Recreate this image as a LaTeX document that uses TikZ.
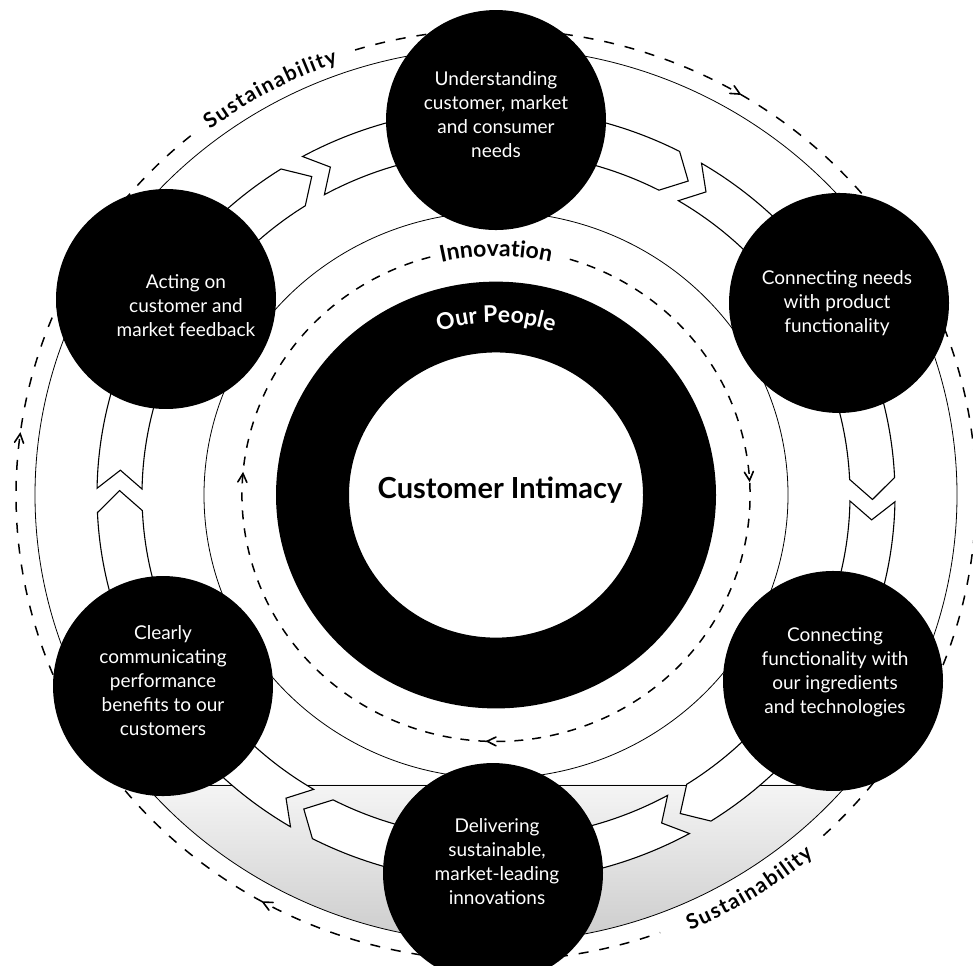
\documentclass[tikz,border=0pt]{standalone}
\usepackage{fontspec}
\newfontfamily\lato{Lato}
\usetikzlibrary{calc,decorations.text}
\newcommand\chevron[3]{%
  \pgfmathsetmacro\chA{#1+#3}\pgfmathsetmacro\chB{#1-#3}%
  \pgfmathsetmacro\chRo{#2+4.5}\pgfmathsetmacro\chRi{#2-4.5}%
  \draw[chevst] ($(C)+(\chA:\chRo)$) -- ($(C)+(\chB:#2)$) -- ($(C)+(\chA:\chRi)$);}
\begin{document}
\begin{tikzpicture}[x=1pt,y=0.97pt,
  sat/.style={circle,fill=black,minimum size=220pt,inner sep=0pt},
  sattext/.style={text=white,align=center,font=\lato\fontsize{19}{24}\selectfont},
  bandpiece/.style={fill=white,draw=black,line width=1.1pt,line join=miter},
  thinring/.style={draw=black,line width=0.8pt},
  dashring/.style={draw=black,line width=1.5pt},
  chevst/.style={draw=black,line width=1.6pt,line join=miter,line cap=round},
]
\path[use as bounding box,fill=white] (0,0) rectangle (973,994.85);
\coordinate (C) at (496,484.5);

% grey speckled segment at the bottom
\begin{scope}
\clip (C) circle (461);
\shade[top color=gray!8,bottom color=gray!45] (0,0) rectangle (973,185.6);
\draw[line width=0.8pt] (0,185.6) -- (973,185.6);
\end{scope}

% thin solid rings
\draw[thinring] (C) circle (292);
\draw[thinring] (C) circle (461);

% dashed rings
\draw[dashring,dash pattern=on 10pt off 11pt] ($(C)+(129.5:480)$) arc[start angle=129.5,end angle=290,radius=480];
\draw[dashring,dash pattern=on 10pt off 11pt] ($(C)+(-47:480)$) arc[start angle=-47,end angle=107.3,radius=480];
\draw[dashring,dash pattern=on 9pt off 9pt] ($(C)+(105:254)$) arc[start angle=105,end angle=435,radius=254];

% arrow band
\foreach \p in {60,0,-60,-120,-180,-240}{
  \pgfmathsetmacro\aA{\p+30}
  \pgfmathsetmacro\bB{\p-30}
  \pgfmathsetmacro\hsh{\p+2.6}
  \pgfmathsetmacro\htip{\p-0.7}
  \pgfmathsetmacro\tcor{\p-1.0}
  \pgfmathsetmacro\tap{\p-3.9}
  \draw[bandpiece] ($(C)+(\aA:399)$) arc[start angle=\aA,end angle=\hsh,radius=399]
     -- ($(C)+(\htip:376.5)$) -- ($(C)+(\hsh:354)$) arc[start angle=\hsh,end angle=\aA,radius=354] -- cycle;
  \draw[bandpiece] ($(C)+(\tcor:399)$) arc[start angle=\tcor,end angle=\bB,radius=399]
     -- ($(C)+(\bB:354)$) arc[start angle=\bB,end angle=\tcor,radius=354] -- ($(C)+(\tap:376.5)$) -- cycle;
}

% chevrons on dashed rings
\chevron{60}{480}{0.55}
\chevron{173}{480}{0.55}
\chevron{241.5}{480}{0.55}
\chevron{4.4}{254}{1.0}
\chevron{176}{254}{1.0}
\chevron{269}{254}{1.0}

% central ring
\fill[black,even odd rule] (C) circle (220) (C) circle (147);
\node[font=\lato\bfseries\fontsize{29}{34}\selectfont] (ci) at (500,489.7) {Customer Intimacy};
\path[decorate,decoration={text along path,text align=center,text color=white,
  text={|\lato\bfseries\fontsize{23}{23}\selectfont|Our People}}]
  ($(C)+(125:178)$) arc[start angle=125,end angle=55,radius=178];

% ring labels
\path[decorate,decoration={text along path,text align=center,
  text={|\lato\bfseries\fontsize{23}{23}\selectfont|Innovation}}]
  ($(C)+(115:246)$) arc[start angle=115,end angle=65,radius=246];
\path[decorate,decoration={text along path,text align=center,
  text={|\lato\bfseries\fontsize{21}{21}\selectfont|{S\kern1.5pt}{u\kern1.5pt}{s\kern1.5pt}{t\kern1.5pt}{a\kern1.5pt}{i\kern1.5pt}{n\kern1.5pt}{a\kern1.5pt}{b\kern1.5pt}{i\kern1.5pt}{l\kern1.5pt}{i\kern1.5pt}{t\kern1.5pt}{y}}}]
  ($(C)+(135.4:473)$) arc[start angle=135.4,end angle=101.4,radius=473];
\path[decorate,decoration={text along path,text align=center,
  text={|\lato\bfseries\fontsize{21}{21}\selectfont|{S\kern1.5pt}{u\kern1.5pt}{s\kern1.5pt}{t\kern1.5pt}{a\kern1.5pt}{i\kern1.5pt}{n\kern1.5pt}{a\kern1.5pt}{b\kern1.5pt}{i\kern1.5pt}{l\kern1.5pt}{i\kern1.5pt}{t\kern1.5pt}{y}}}]
  ($(C)+(-75:489)$) arc[start angle=-75,end angle=-41,radius=489];

% satellites
\node[sat] (s1) at (496,871.1) {};
\node[sat] (s2) at (839,682.5) {};
\node[sat] (s3) at (833,292.8) {};
\node[sat] (s4) at (493,94.8) {};
\node[sat] (s5) at (163,287.6) {};
\node[sat] (s6) at (166,686.6) {};
\node[sattext] (t1) at (496,876.3) {Understanding\\customer, market\\and consumer\\needs};
\node[sattext] (t2) at (837,682.5) {Connecting needs\\with product\\functionality};
\node[sattext] (t3) at (835,302) {Connecting\\functionality with\\our ingredients\\and technologies};
\node[sattext] (t4) at (497,106.2) {Delivering\\sustainable,\\market-leading\\innovations};
\node[sattext] (t5) at (163,292.8) {Clearly\\communicating\\performance\\benefits to our\\customers};
\node[sattext] (t6) at (186,679.4) {Acting on\\customer and\\market feedback};
\end{tikzpicture}
\end{document}
